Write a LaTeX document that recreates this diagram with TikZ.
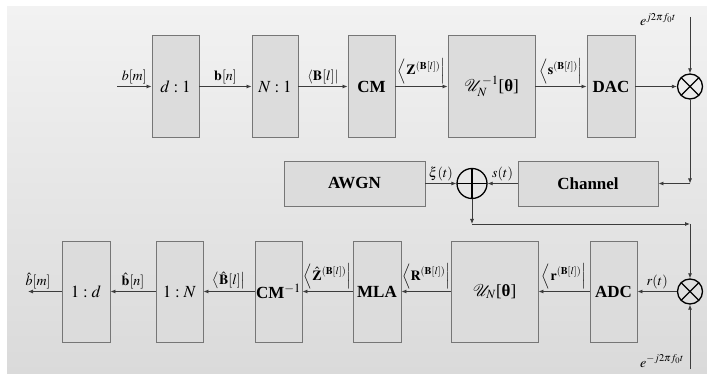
\documentclass[tikz,border=0pt]{standalone}
\usepackage{mathptmx}
\usepackage{fontspec}
\setmainfont{Liberation Serif}
\usetikzlibrary{arrows.meta}
\definecolor{boxfill}{HTML}{DCDCDC}
\definecolor{boxborder}{HTML}{767676}
\definecolor{lncol}{HTML}{3C3C3C}
\definecolor{paneltop}{HTML}{F2F2F2}
\definecolor{panelbot}{HTML}{DADADA}
\newcommand\blkfont{\fontsize{17}{19}\selectfont}
\newcommand\labfont{\fontsize{14}{16}\selectfont}
\begin{document}
\begin{tikzpicture}[x=1pt,y=-1pt,
  blk/.style={draw=boxborder, fill=boxfill, line width=0.9pt, inner sep=0pt, font=\blkfont},
  arr/.style={draw=lncol, line width=0.8pt, -{Latex[length=5pt,width=4pt]}},
  lab/.style={above, inner sep=2pt, font=\labfont},
  mulc/.style={circle, draw=black, line width=1.3pt, minimum size=25pt, inner sep=0pt,
    path picture={\draw[line width=1.3pt] (path picture bounding box.north west) -- (path picture bounding box.south east)
      (path picture bounding box.south west) -- (path picture bounding box.north east);}},
  addc/.style={circle, draw=black, line width=1.3pt, minimum size=30pt, inner sep=0pt,
    path picture={\draw[line width=1.3pt] (path picture bounding box.north) -- (path picture bounding box.south)
      (path picture bounding box.west) -- (path picture bounding box.east);}}
]
\useasboundingbox (0,0) rectangle (707,374);
\fill[white] (0,0) rectangle (707,374);
\shade[top color=paneltop, bottom color=panelbot] (7,7) rectangle (707,374);

% top row
\node[blk, minimum width=47pt, minimum height=102pt] (d1) at (175.5,86.5) {$d:1$};
\node[blk, minimum width=46pt, minimum height=102pt] (N1) at (275,86.5) {$N:1$};
\node[blk, minimum width=47pt, minimum height=102pt] (CM) at (371.5,86.5) {\textbf{CM}};
\node[blk, minimum width=87pt, minimum height=102pt] (Ui) at (491.5,86.5) {$\mathcal{U}_N^{-1}$[\textbf{θ}]};
\node[blk, minimum width=48pt, minimum height=102pt] (DAC) at (611,86.5) {\textbf{DAC}};
\node[mulc] (m1) at (690,86.5) {};
\coordinate (in) at (117,86.5);
\coordinate (ctop) at (690,17);
\node[font=\labfont, anchor=base] (e1) at (658,26) {$e^{j2\pi f_0 t}$};

% middle row
\node[blk, minimum width=141pt, minimum height=45pt] (awgn) at (354.5,183.5) {\textbf{AWGN}};
\node[blk, minimum width=140pt, minimum height=45pt] (chan) at (588,183.5) {\textbf{Channel}};
\node[addc] (add) at (472,183.5) {};
\coordinate (c1) at (690,183.5);
\coordinate (c2) at (472,224);
\coordinate (c3) at (690,224);

% bottom row
\node[blk, minimum width=48pt, minimum height=101pt] (od) at (86,291.5) {$1:d$};
\node[blk, minimum width=47pt, minimum height=101pt] (oN) at (179.5,291.5) {$1:N$};
\node[blk, minimum width=47pt, minimum height=101pt] (CMi) at (278.5,291.5) {\textbf{CM}$^{-1}$};
\node[blk, minimum width=48pt, minimum height=101pt] (MLA) at (377,291.5) {\textbf{MLA}};
\node[blk, minimum width=87pt, minimum height=101pt] (UN) at (494.5,291.5) {$\mathcal{U}_N$[\textbf{θ}]};
\node[blk, minimum width=47pt, minimum height=101pt] (ADC) at (613.5,291.5) {\textbf{ADC}};
\node[mulc] (m2) at (690,291.5) {};
\coordinate (out) at (28,291.5);
\coordinate (cbot) at (690,369);
\node[font=\labfont, anchor=base] (e2) at (662,367) {$e^{-j2\pi f_0 t}$};

% top connectors
\draw[arr] (in) -- node[lab]{$b[m]$} (d1);
\draw[arr] (d1) -- node[lab]{$\mathbf{b}[n]$} (N1);
\draw[arr] (N1) -- node[lab]{$\left\langle\mathbf{B}[l]\right|$} (CM);
\draw[arr] (CM) -- node[lab]{$\left\langle\mathbf{Z}^{(\mathbf{B}[l])}\right|$} (Ui);
\draw[arr] (Ui) -- node[lab]{$\left\langle\mathbf{s}^{(\mathbf{B}[l])}\right|$} (DAC);
\draw[arr] (DAC) -- (m1);
\draw[arr] (ctop) -- (m1);

% middle connectors
\draw[arr] (m1) -- (c1);
\draw[arr] (c1) -- (chan);
\draw[arr] (chan) -- node[lab]{$s(t)$} (add);
\draw[arr] (awgn) -- node[lab]{$\xi(t)$} (add);
\draw[arr] (add) -- (c2);
\draw[arr] (c2) -- (c3);
\draw[arr] (c3) -- (m2);

% bottom connectors
\draw[arr] (cbot) -- (m2);
\draw[arr] (m2) -- node[lab]{$r(t)$} (ADC);
\draw[arr] (ADC) -- node[lab]{$\left\langle\mathbf{r}^{(\mathbf{B}[l])}\right|$} (UN);
\draw[arr] (UN) -- node[lab]{$\left\langle\mathbf{R}^{(\mathbf{B}[l])}\right|$} (MLA);
\draw[arr] (MLA) -- node[lab]{$\left\langle\hat{\mathbf{Z}}^{(\mathbf{B}[l])}\right|$} (CMi);
\draw[arr] (CMi) -- node[lab]{$\left\langle\hat{\mathbf{B}}[l]\right|$} (oN);
\draw[arr] (oN) -- node[lab]{$\hat{\mathbf{b}}[n]$} (od);
\draw[arr] (od) -- node[lab, pos=0.7]{$\hat{b}[m]$} (out);
\end{tikzpicture}
\end{document}
